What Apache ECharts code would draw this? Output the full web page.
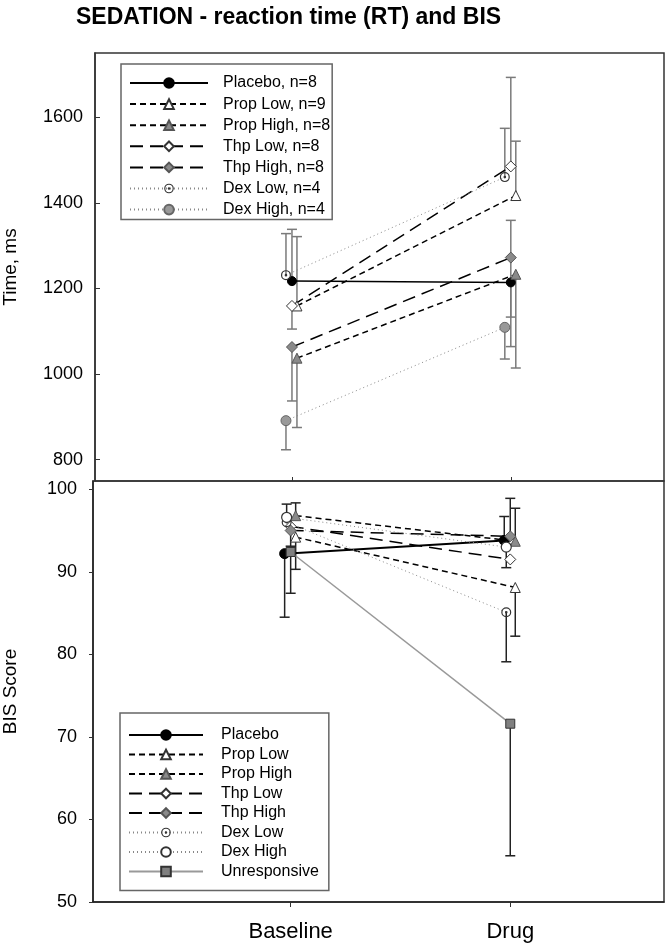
<!DOCTYPE html>
<html>
<head>
<meta charset="utf-8">
<script src="https://cdn.jsdelivr.net/npm/echarts@6/dist/echarts.min.js"></script>
<style>
html,body{margin:0;padding:0;background:#fff;}
#chart{width:666px;height:945px;}
</style>
</head>
<body>
<div id="chart"></div>
<script>
// ---------------- DATA ----------------
const phases = ['Baseline', 'Drug'];
const rtTicks = [800, 1000, 1200, 1400, 1600];
const bisTicks = [50, 60, 70, 80, 90, 100];

// Reaction time (ms): means, upward error extents, downward error extents
const rtPlacebo  = [1217, 1214]; const rtUpPlacebo  = [121, null]; const rtDnPlacebo  = [null, 150];
const rtPropLow  = [1159, 1417]; const rtUpPropLow  = [162, 127];  const rtDnPropLow  = [null, null];
const rtPropHigh = [1037, 1233]; const rtUpPropHigh = [null, null]; const rtDnPropHigh = [162, 219];
const rtThpLow   = [1159, 1485]; const rtUpThpLow   = [null, 208]; const rtDnThpLow   = [54, null];
const rtThpHigh  = [1063, 1272]; const rtUpThpHigh  = [null, 87];  const rtDnThpHigh  = [126, 139];
const rtDexLow   = [1231, 1460]; const rtUpDexLow   = [97, 114];   const rtDnDexLow   = [null, null];
const rtDexHigh  = [891, 1109];  const rtUpDexHigh  = [null, null]; const rtDnDexHigh  = [68, 74];

// BIS score
const bisPlacebo  = [92.2, 93.8]; const bisUpPlacebo  = [null, 2.9]; const bisDnPlacebo  = [7.7, null];
const bisPropLow  = [94.2, 88.1]; const bisUpPropLow  = [null, null]; const bisDnPropLow  = [3.9, 5.9];
const bisPropHigh = [96.8, 93.7]; const bisUpPropHigh = [1.55, 4.0]; const bisDnPropHigh = [null, null];
const bisThpLow   = [95.5, 91.5]; const bisUpThpLow   = [null, null]; const bisDnThpLow   = [2.4, null];
const bisThpHigh  = [95.0, 94.3]; const bisUpThpHigh  = [null, 4.6]; const bisDnThpHigh  = [null, null];
const bisDexLow   = [96.0, 85.1]; const bisUpDexLow   = [null, null]; const bisDnDexLow   = [null, 6.0];
const bisDexHigh  = [96.6, 93.0]; const bisUpDexHigh  = [1.6, null]; const bisDnDexHigh  = [null, 2.5];
const bisUnresp   = [92.4, 71.6]; const bisUpUnresp   = [null, null]; const bisDnUnresp   = [5.0, 16.0];

// ---------------- STYLE ----------------
const FONT = "'Liberation Sans', Arial, sans-serif";
const X_MIN = 0.1, X_MAX = 2.7;
const PX = (X_MAX - X_MIN) / 570;   // data units per pixel (for small horizontal offsets)
const DOT_RING = 'path://M0,-10 A10,10 0 1,1 0,10 A10,10 0 1,1 0,-10 Z M0,-7.6 A7.6,7.6 0 1,0 0,7.6 A7.6,7.6 0 1,0 0,-7.6 Z M0,-2.6 A2.6,2.6 0 1,1 0,2.6 A2.6,2.6 0 1,1 0,-2.6 Z';

const ST = {
  placebo:  {line:{color:'#000', width:1.5, type:'solid'}, symbol:'circle', size:9, item:{color:'#000', borderColor:'#000', borderWidth:1}},
  placeboB: {line:{color:'#000', width:2, type:'solid'}, symbol:'circle', size:10, item:{color:'#000', borderColor:'#000', borderWidth:1}},
  propLow:  {line:{color:'#000', width:1.5, type:[6,4]}, symbol:'triangle', size:10, item:{color:'#fff', borderColor:'#333', borderWidth:1}},
  propHigh: {line:{color:'#000', width:1.5, type:[6,4]}, symbol:'triangle', size:10, item:{color:'#8a8a8a', borderColor:'#555', borderWidth:1}},
  thpLow:   {line:{color:'#000', width:1.5, type:[13,7]}, symbol:'diamond', size:11, item:{color:'#fff', borderColor:'#333', borderWidth:1}},
  thpHigh:  {line:{color:'#000', width:1.5, type:[13,7]}, symbol:'diamond', size:11, item:{color:'#8a8a8a', borderColor:'#555', borderWidth:1}},
  dexLow:   {line:{color:'#888', width:1, type:[1,3]}, symbol:DOT_RING, size:10, item:{color:'#333', borderWidth:0}},
  dexHighT: {line:{color:'#888', width:1, type:[1,3]}, symbol:'circle', size:10, item:{color:'#999', borderColor:'#666', borderWidth:1}},
  dexHighB: {line:{color:'#888', width:1, type:[1,3]}, symbol:'circle', size:10, item:{color:'#fff', borderColor:'#333', borderWidth:1.2}},
  unresp:   {line:{color:'#999', width:1.5, type:'solid'}, symbol:'rect', size:9, item:{color:'#808080', borderColor:'#333', borderWidth:1}}
};

const topDefs = [
  {name:'Placebo, n=8',   y:rtPlacebo,  up:rtUpPlacebo,  dn:rtDnPlacebo,  st:'placebo',  dx:0},
  {name:'Prop Low, n=9',  y:rtPropLow,  up:rtUpPropLow,  dn:rtDnPropLow,  st:'propLow',  dx:5},
  {name:'Prop High, n=8', y:rtPropHigh, up:rtUpPropHigh, dn:rtDnPropHigh, st:'propHigh', dx:5},
  {name:'Thp Low, n=8',   y:rtThpLow,   up:rtUpThpLow,   dn:rtDnThpLow,   st:'thpLow',   dx:0},
  {name:'Thp High, n=8',  y:rtThpHigh,  up:rtUpThpHigh,  dn:rtDnThpHigh,  st:'thpHigh',  dx:0},
  {name:'Dex Low, n=4',   y:rtDexLow,   up:rtUpDexLow,   dn:rtDnDexLow,   st:'dexLow',   dx:-6},
  {name:'Dex High, n=4',  y:rtDexHigh,  up:rtUpDexHigh,  dn:rtDnDexHigh,  st:'dexHighT', dx:-6}
];
const botDefs = [
  {name:'Placebo',      y:bisPlacebo,  up:bisUpPlacebo,  dn:bisDnPlacebo,  st:'placeboB', dx:-6},
  {name:'Prop Low',     y:bisPropLow,  up:bisUpPropLow,  dn:bisDnPropLow,  st:'propLow',  dx:5},
  {name:'Prop High',    y:bisPropHigh, up:bisUpPropHigh, dn:bisDnPropHigh, st:'propHigh', dx:5},
  {name:'Thp Low',      y:bisThpLow,   up:bisUpThpLow,   dn:bisDnThpLow,   st:'thpLow',   dx:0},
  {name:'Thp High',     y:bisThpHigh,  up:bisUpThpHigh,  dn:bisDnThpHigh,  st:'thpHigh',  dx:0},
  {name:'Dex Low',      y:bisDexLow,   up:bisUpDexLow,   dn:bisDnDexLow,   st:'dexLow',   dx:-4},
  {name:'Dex High',     y:bisDexHigh,  up:bisUpDexHigh,  dn:bisDnDexHigh,  st:'dexHighB', dx:-4},
  {name:'Unresponsive', y:bisUnresp,   up:bisUpUnresp,   dn:bisDnUnresp,   st:'unresp',   dx:0}
];

function lineSeries(def, g) {
  const s = ST[def.st];
  return {
    type:'line', name:def.name, xAxisIndex:g, yAxisIndex:g,
    data: def.y.map((v, i) => [i + 1 + def.dx * PX, v]),
    symbol:s.symbol, symbolSize:s.size, showAllSymbol:true,
    lineStyle:{color:s.line.color, width:s.line.width, type:s.line.type},
    itemStyle:Object.assign({}, s.item),
    z:3, animation:false, silent:true
  };
}
function barData(defs) {
  const out = [];
  defs.forEach(def => {
    def.y.forEach((v, i) => {
      const x = i + 1 + def.dx * PX;
      if (def.up[i] != null) out.push([x, v, v + def.up[i]]);
      if (def.dn[i] != null) out.push([x, v, v - def.dn[i]]);
    });
  });
  return out;
}
function barSeries(defs, g, color, width) {
  return {
    type:'custom', xAxisIndex:g, yAxisIndex:g, z:2, animation:false, silent:true,
    encode:{x:0, y:[1,2]},
    data: barData(defs),
    renderItem: function (params, api) {
      const p0 = api.coord([api.value(0), api.value(1)]);
      const p1 = api.coord([api.value(0), api.value(2)]);
      const st = {stroke:color, lineWidth:width};
      return {type:'group', children:[
        {type:'line', shape:{x1:p0[0], y1:p0[1], x2:p1[0], y2:p1[1]}, style:st},
        {type:'line', shape:{x1:p1[0]-5, y1:p1[1], x2:p1[0]+5, y2:p1[1]}, style:st}
      ]};
    }
  };
}

const series = [
  barSeries(topDefs, 0, '#7a7a7a', 1.5),
  barSeries(botDefs, 1, '#222', 1.5)
].concat(topDefs.map(d => lineSeries(d, 0)), botDefs.map(d => lineSeries(d, 1)));

const labelFont = {fontFamily:FONT, fontSize:18, color:'#000', formatter: v => String(v)};

const option = {
  backgroundColor:'#fff',
  animation:false,
  title:{
    text:'SEDATION - reaction time (RT) and BIS', left:71, top:1,
    textStyle:{fontFamily:FONT, fontSize:23, fontWeight:'bold', color:'#000'}
  },
  grid:[
    {left:95, right:2, top:53, height:428, show:true, borderColor:'#333', borderWidth:1.5, backgroundColor:'transparent',
     containLabel:false, outerBoundsMode:'none'},
    {left:93, right:2, top:481, height:421, show:true, borderColor:'#333', borderWidth:1.5, backgroundColor:'transparent',
     containLabel:false, outerBoundsMode:'none'}
  ],
  xAxis:[
    {type:'value', gridIndex:0, min:X_MIN, max:X_MAX, splitLine:{show:false},
     axisLine:{show:false}, axisLabel:{show:false},
     axisTick:{show:true, inside:true, length:4, customValues:[1,2], lineStyle:{color:'#333'}}},
    {type:'value', gridIndex:1, min:X_MIN, max:X_MAX, splitLine:{show:false},
     axisLine:{show:true, onZero:false, lineStyle:{color:'#222', width:1.5}},
     axisTick:{show:true, inside:false, length:5, customValues:[1,2], lineStyle:{color:'#333'}},
     axisLabel:{show:true, customValues:[1,2], margin:19, fontFamily:FONT, fontSize:22, color:'#000',
       formatter: v => phases[Math.round(v) - 1] || ''}}
  ],
  yAxis:[
    {type:'value', gridIndex:0, min:750, max:1750, splitLine:{show:false},
     name:'Time, ms', nameLocation:'middle', nameGap:75, nameTextStyle:{fontFamily:FONT, fontSize:19, color:'#000'},
     axisLine:{show:true, lineStyle:{color:'#333', width:1.5}},
     axisTick:{show:true, inside:true, length:5, customValues:rtTicks, lineStyle:{color:'#333'}},
     axisLabel:Object.assign({customValues:rtTicks, margin:12}, labelFont)},
    {type:'value', gridIndex:1, min:50, max:101, splitLine:{show:false},
     name:'BIS Score', nameLocation:'middle', nameGap:73, nameTextStyle:{fontFamily:FONT, fontSize:19, color:'#000'},
     axisLine:{show:true, lineStyle:{color:'#222', width:1.5}},
     axisTick:{show:true, inside:false, length:4, customValues:bisTicks, lineStyle:{color:'#333'}},
     axisLabel:Object.assign({customValues:bisTicks, margin:16}, labelFont)}
  ],
  legend:[
    {data:topDefs.map(d => d.name), orient:'vertical', left:121, top:64,
     itemWidth:78, itemHeight:12, itemGap:5.1, padding:[11,2,2,8],
     borderColor:'#666', borderWidth:1.5, backgroundColor:'#fff', selectedMode:false,
     textStyle:{fontFamily:FONT, fontSize:16, color:'#000', padding:[0,0,0,10]}},
    {data:botDefs.map(d => d.name), orient:'vertical', left:120, top:713,
     itemWidth:74, itemHeight:12, itemGap:3.5, padding:[14,10,11,8],
     borderColor:'#666', borderWidth:1.5, backgroundColor:'#fff', selectedMode:false,
     textStyle:{fontFamily:FONT, fontSize:16, color:'#000', padding:[0,0,0,13]}}
  ],
  series: series
};

const chart = echarts.init(document.getElementById('chart'), null, {renderer:'canvas'});
chart.setOption(option);
</script>
</body>
</html>
